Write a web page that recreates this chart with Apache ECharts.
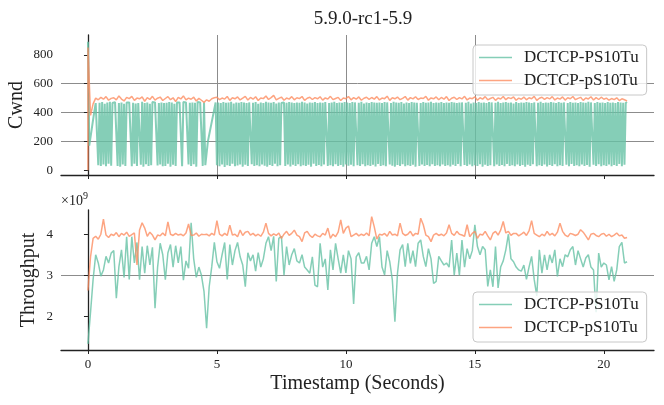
<!DOCTYPE html>
<html>
<head>
<meta charset="utf-8">
<title>5.9.0-rc1-5.9</title>
<script src="https://cdn.jsdelivr.net/npm/echarts@6/dist/echarts.min.js"></script>
<style>
  html, body { margin: 0; padding: 0; background: #fff; }
  #chart { width: 664px; height: 405px; }
</style>
</head>
<body>
<div id="chart"></div>
<script>
// series names (legend order)
const seriesNames = ['DCTCP-PS10Tu', 'DCTCP-pS10Tu'];

// tick labels
const xTicks = [0, 5, 10, 15, 20];
const cwndTicks = [0, 200, 400, 600, 800];
const thrTicks = [2, 3, 4];

// Cwnd, DCTCP-PS10Tu, one value every 0.05 s from t = 0
const cwndStepPS = 0.05;
const cwndPS = [
  890,170,230,290,350,410,465,470,35,468,30,472,40,460,28,470,45,475,32,466,
  470,472,470,30,465,25,470,40,460,30,470,470,470,470,28,468,45,462,30,466,
  470,38,475,25,466,42,470,30,460,35,472,470,470,470,33,465,40,470,28,466,
  30,468,45,472,25,470,38,460,30,470,470,470,466,28,472,470,470,465,40,468,
  30,470,42,468,25,472,470,470,462,30,470,35,30,200,245,290,335,380,425,470,
  35,470,28,466,40,472,22,468,35,470,30,475,45,462,28,470,33,468,40,472,
  25,470,38,465,30,470,470,42,468,30,472,35,460,28,470,40,466,32,474,25,
  470,36,468,30,472,45,462,28,470,34,466,470,470,30,468,40,472,26,470,38,
  465,30,470,42,468,28,475,35,470,30,462,38,470,25,468,45,472,30,466,36,
  470,28,468,40,472,470,30,465,35,470,28,474,42,466,30,470,36,468,25,472,
  40,470,32,466,38,472,28,470,470,35,468,30,475,42,462,28,470,34,466,30,
  472,38,470,26,468,44,470,30,465,35,472,28,470,470,40,466,32,474,25,470,
  36,468,30,472,42,462,28,470,35,466,30,472,38,470,25,468,470,30,466,40,
  472,30,468,36,470,28,475,42,465,30,470,35,468,28,472,40,466,30,470,34,
  468,26,472,38,470,30,466,44,470,28,470,470,36,468,30,474,40,462,28,470,
  35,466,30,472,42,468,25,470,38,465,30,472,34,470,470,28,468,40,474,30,
  466,36,470,28,472,44,468,30,470,35,462,28,472,40,466,30,470,36,468,25,
  472,38,470,30,466,42,470,470,28,468,35,474,30,465,40,470,26,468,36,472,
  30,470,42,466,28,472,35,468,30,470,470,38,465,28,472,44,468,30,470,34,
  466,28,472,40,470,30,468,36,474,25,470,470,38,466,30,472,42,468,28,470,
  35,466,30,472,40,468,28,470,36,465,30,472,44,470,28,468,38,470,465
];

// Cwnd, DCTCP-pS10Tu: jump at t = 0, then one value every 0.1 s from t = 0.1
const cwndStartpS = [0, 850];
const cwndSteppS = 0.1;
const cwndpS = [
  380,460,500,488,505,492,510,485,498,
  502,487,515,493,480,505,496,512,484,500,
  495,508,478,503,490,512,486,499,507,483,
  497,510,489,502,476,505,494,515,488,500,
  492,506,480,498,485,470,488,478,495,502,
  506,489,500,493,511,484,502,495,508,487,
  499,512,486,504,492,509,483,501,496,514,
  490,503,519,488,498,507,485,500,493,510,
  488,502,496,511,484,499,506,490,503,495,
  509,486,501,494,512,489,497,505,483,500,
  496,511,488,503,492,508,485,499,506,491,
  504,493,510,487,500,496,513,484,502,495,
  507,489,498,511,486,503,494,509,490,500,
  497,512,485,501,495,508,488,504,492,510,
  483,499,506,490,503,494,512,487,500,496,
  509,485,502,493,510,488,497,505,484,501,
  494,511,489,503,496,508,485,500,492,507,
  488,502,495,512,484,499,506,491,503,494,
  510,487,500,493,508,486,502,495,511,489,
  498,505,484,501,494,509,487,503,490,506,
  492,500,485,497,489,502,483,495,488,480
];

// Throughput (x 1e9), one value every 0.1 s from t = 0
const thrStep = 0.1;
const thrPS = [
  1.33,2.1,2.9,3.5,3.3,2.98,3.13,3.46,3.3,3.54,
  3.6,2.44,3.21,3.62,2.95,3.94,2.9,3.94,3.3,3.8,
  2.89,3.7,3.05,3.72,3.25,3.68,2.2,3.2,3.78,3.5,
  2.89,3.55,3.75,3.2,3.72,3.3,3.7,2.88,3.35,3.17,
  4.28,3.4,2.95,3.2,3.0,2.6,1.71,2.72,3.21,3.8,
  3.33,3.17,3.5,3.8,2.9,3.75,3.25,3.6,3.8,3.45,
  3.25,2.72,3.55,3.35,3.5,3.1,3.55,3.2,3.4,3.78,
  3.94,3.6,3.95,2.85,3.9,3.95,3.0,3.7,3.25,3.5,
  3.65,3.35,3.3,3.5,3.2,3.13,3.05,3.45,2.76,2.72,
  3.78,3.2,3.4,2.64,3.62,3.13,3.78,3.4,3.05,3.5,
  3.06,3.6,3.4,2.3,3.45,3.55,3.3,3.3,3.46,3.13,
  3.78,3.94,3.7,3.94,3.2,3.01,3.6,3.33,2.89,1.87,
  3.05,3.62,3.75,3.21,3.78,3.29,3.6,3.21,3.78,3.86,
  3.46,3.21,3.65,3.4,2.8,2.85,3.46,3.35,3.25,3.3,
  3.2,3.86,3.0,3.54,3.0,3.86,3.2,3.65,3.4,3.6,
  4.23,3.7,3.5,3.7,3.62,2.73,3.13,2.72,3.7,2.69,
  3.2,3.35,3.62,4.0,3.4,3.33,3.2,3.13,3.1,3.25,
  2.9,3.2,3.46,2.9,2.5,3.62,3.05,3.5,3.13,3.5,
  3.3,3.62,2.97,3.4,3.21,3.5,3.45,3.62,3.7,3.25,
  3.6,3.4,3.2,3.42,3.5,3.2,3.13,2.1,3.54,3.2,
  3.3,3.25,2.89,3.21,2.85,3.13,3.7,3.8,3.3,3.33
];
const thrpS = [
  2.63,3.45,3.9,3.95,3.88,4.0,4.37,3.98,3.92,4.0,
  3.97,4.04,3.94,4.02,3.98,4.05,3.95,3.99,4.03,3.25,
  4.1,4.28,4.15,3.95,4.05,3.98,3.86,3.98,3.96,4.03,
  3.96,4.3,4.0,3.97,4.02,3.98,4.0,3.96,4.03,4.25,
  3.97,3.98,4.03,3.95,4.0,3.99,4.0,3.96,4.02,3.98,
  4.33,4.0,3.96,4.02,3.97,4.22,3.98,4.0,3.94,4.1,
  3.97,4.05,4.07,3.98,4.02,3.96,4.0,3.95,4.05,4.27,
  4.02,3.96,4.01,3.97,4.03,3.9,4.0,4.07,3.97,4.02,
  4.1,3.98,3.94,3.82,4.03,4.07,3.97,3.92,4.0,3.96,
  3.94,4.02,3.98,4.15,3.9,4.0,3.94,4.05,4.35,4.02,
  4.15,4.2,3.94,3.98,4.02,3.96,4.0,3.97,4.03,3.96,
  4.43,4.18,3.88,4.0,3.98,4.02,3.95,4.07,3.98,4.0,
  3.96,4.27,4.02,3.97,4.0,4.07,3.96,4.02,4.0,4.39,
  4.23,3.98,3.94,3.82,3.98,4.02,3.97,4.0,3.96,4.03,
  4.23,4.02,3.97,4.07,4.0,3.98,3.95,4.23,3.94,4.02,
  4.07,3.9,4.0,3.98,4.07,3.96,3.86,4.02,4.07,3.98,
  4.1,4.31,4.03,4.07,3.97,4.02,4.02,3.96,4.0,4.05,
  3.97,4.08,4.33,4.02,3.98,3.94,4.0,3.96,4.07,3.98,
  4.02,3.96,4.05,4.27,4.07,3.98,3.94,4.02,4.0,3.97,
  4.0,4.11,4.05,3.96,3.86,4.0,4.02,3.97,3.94,4.0,
  4.02,3.95,4.0,3.94,3.98,4.03,3.96,3.98,3.9,3.92
];

const FONT = 'Liberation Serif';
const INK = '#222';
const GRID_LINE = '#8c8c8c';
const GREEN = '#66c2a5';
const ORANGE = '#fc8d62';

function pairs(values, step, t0) {
  return values.map((v, i) => [+(t0 + i * step).toFixed(3), v]);
}

const cwndpSData = cwndStartpS.map(v => [0, v]).concat(pairs(cwndpS, cwndSteppS, cwndSteppS));

function xAxis(gridIndex, labels, grid, name) {
  return {
    type: 'value', gridIndex: gridIndex,
    min: -1.045, max: 21.945,
    name: name, nameLocation: 'middle', nameGap: 24, nameMoveOverlap: false,
    nameTextStyle: { fontFamily: FONT, fontSize: 20, color: INK },
    axisLine: { show: true, onZero: false, lineStyle: { color: INK, width: 1.3 } },
    axisTick: { show: true, length: 4, customValues: xTicks, lineStyle: { color: INK, width: 1 } },
    axisLabel: { show: labels, customValues: xTicks, margin: 8, fontFamily: FONT, fontSize: 13, color: INK },
    splitLine: { show: grid, showMinLine: false, showMaxLine: false, lineStyle: { color: GRID_LINE, width: 1 } }
  };
}

function yAxis(gridIndex, min, max, ticks, name, gap) {
  return {
    type: 'value', gridIndex: gridIndex,
    min: min, max: max,
    name: name, nameLocation: 'middle', nameGap: gap, nameMoveOverlap: false,
    nameTextStyle: { fontFamily: FONT, fontSize: 20, color: INK },
    axisLine: { show: true, lineStyle: { color: INK, width: 1.3 } },
    axisTick: { show: true, length: 4, customValues: ticks, lineStyle: { color: INK, width: 1 } },
    axisLabel: { customValues: ticks, margin: 8, fontFamily: FONT, fontSize: 13, color: INK },
    splitLine: { show: true, showMinLine: false, showMaxLine: false, lineStyle: { color: GRID_LINE, width: 1 } }
  };
}

function legend(top) {
  return {
    data: seriesNames.map(n => ({ name: n, icon: 'rect' })),
    orient: 'vertical',
    left: 473, top: top,
    itemWidth: 33, itemHeight: 1.6, itemGap: 4,
    padding: [3, 8, 5, 6],
    backgroundColor: 'rgba(255,255,255,0.8)',
    borderColor: '#c8c8c8', borderWidth: 1, borderRadius: 4,
    itemStyle: { opacity: 0.8 },
    textStyle: { fontFamily: FONT, fontSize: 17, color: INK, lineHeight: 19, padding: [0, 0, 0, 7] },
    selectedMode: false
  };
}

function line(name, color, xi, data, width) {
  return {
    name: name, type: 'line', xAxisIndex: xi, yAxisIndex: xi,
    data: data, symbol: 'none', showSymbol: false, sampling: null,
    lineStyle: { color: color, width: width, opacity: 0.8 },
    itemStyle: { color: color },
    emphasis: { disabled: true }, silent: true
  };
}

const chart = echarts.init(document.getElementById('chart'), null, { renderer: 'canvas' });
chart.setOption({
  animation: false,
  backgroundColor: '#fff',
  title: {
    text: '5.9.0-rc1-5.9', left: 358, top: 5, textAlign: 'center',
    textStyle: { fontFamily: FONT, fontSize: 19, fontWeight: 'normal', color: INK }
  },
  grid: [
    { left: 61, top: 35, width: 593, height: 140, containLabel: false, outerBoundsMode: 'none' },
    { left: 61, top: 210, width: 593, height: 140, containLabel: false, outerBoundsMode: 'none' }
  ],
  legend: [legend(45), legend(292)],
  xAxis: [xAxis(0, false, true, ''), xAxis(1, true, false, 'Timestamp (Seconds)')],
  yAxis: [
    yAxis(0, -33, 937, cwndTicks, 'Cwnd', 34),
    yAxis(1, 1.18, 4.59, thrTicks, 'Throughput', 22)
  ],
  graphic: [
    { type: 'text', left: 61, top: 194, style: { text: '×10', fontFamily: FONT, fontSize: 14, fill: INK } },
    { type: 'text', left: 83, top: 191, style: { text: '9', fontFamily: FONT, fontSize: 10, fill: INK } }
  ],
  series: [
    line(seriesNames[0], GREEN, 0, pairs(cwndPS, cwndStepPS, 0), 2.0),
    line(seriesNames[1], ORANGE, 0, cwndpSData, 1.5),
    line(seriesNames[0], GREEN, 1, pairs(thrPS, thrStep, 0), 1.5),
    line(seriesNames[1], ORANGE, 1, pairs(thrpS, thrStep, 0), 1.5)
  ]
});
</script>
</body>
</html>
